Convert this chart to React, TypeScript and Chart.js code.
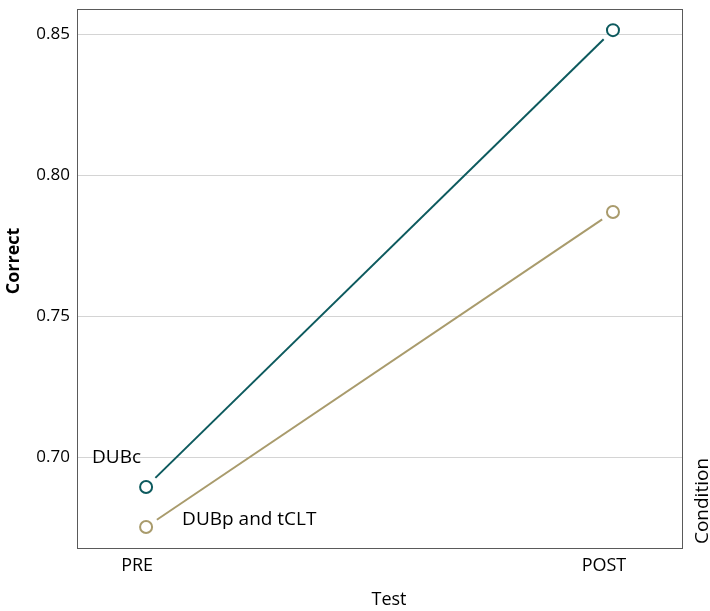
import React, { useEffect, useRef } from "react";
import { Chart, registerables } from "chart.js";

Chart.register(...registerables);

const categories = ["PRE", "POST"];
const seriesNames = ["DUBc", "DUBp and tCLT"];
const dubcValues = [0.6894, 0.8514];
const dubpValues = [0.6752, 0.7869];
const yTickValues = [0.7, 0.75, 0.8, 0.85];
const seriesColors = ["#0d5a5e", "#a99b6c"];

const FONT = "'Open Sans', sans-serif";

const gapLinesPlugin = {
  id: "gapLines",
  beforeDatasetsDraw(chart: any) {
    const ctx = chart.ctx;
    const gap = 13;
    chart.data.datasets.forEach((ds: any, i: number) => {
      const meta = chart.getDatasetMeta(i);
      const pts = meta.data;
      ctx.save();
      ctx.strokeStyle = ds.borderColor;
      ctx.lineWidth = 2;
      for (let k = 0; k < pts.length - 1; k++) {
        const a = pts[k];
        const b = pts[k + 1];
        const dx = b.x - a.x;
        const dy = b.y - a.y;
        const len = Math.sqrt(dx * dx + dy * dy);
        const ux = dx / len;
        const uy = dy / len;
        ctx.beginPath();
        ctx.moveTo(a.x + ux * gap, a.y + uy * gap);
        ctx.lineTo(b.x - ux * gap, b.y - uy * gap);
        ctx.stroke();
      }
      ctx.restore();
    });
  },
  afterDatasetsDraw(chart: any) {
    const ctx = chart.ctx;
    const ca = chart.chartArea;
    ctx.save();
    ctx.strokeStyle = "#5a5a5a";
    ctx.lineWidth = 1;
    ctx.strokeRect(ca.left + 0.5, ca.top + 0.5, ca.right - ca.left - 1, ca.bottom - ca.top - 1);

    ctx.fillStyle = "#000";
    ctx.font = `19px ${FONT}`;
    ctx.textBaseline = "middle";
    const p0 = chart.getDatasetMeta(0).data[0];
    const p1 = chart.getDatasetMeta(1).data[0];
    ctx.textAlign = "right";
    ctx.fillText(seriesNames[0], p0.x - 5, p0.y - 29);
    ctx.textAlign = "left";
    ctx.fillText(seriesNames[1], p1.x + 36, p1.y - 7);

    // axis titles
    ctx.textAlign = "center";
    ctx.font = `18px ${FONT}`;
    ctx.fillText("Test", 389, 600);
    ctx.save();
    ctx.translate(14, 261);
    ctx.rotate(-Math.PI / 2);
    ctx.font = `bold 18px ${FONT}`;
    ctx.fillText("Correct", 0, 0);
    ctx.restore();
    ctx.save();
    ctx.translate(703, 501);
    ctx.rotate(-Math.PI / 2);
    ctx.font = `19px ${FONT}`;
    ctx.fillText("Condition", 0, 0);
    ctx.restore();
    ctx.restore();
  },
};

export default function App() {
  const ref = useRef<HTMLCanvasElement>(null);
  useEffect(() => {
    document.body.style.margin = "0";
    const makeData = (vals: number[]) => vals.map((v, i) => ({ x: i, y: v }));
    const chart = new Chart(ref.current!, {
      type: "scatter",
      data: {
        datasets: [dubcValues, dubpValues].map((vals, i) => ({
          label: seriesNames[i],
          data: makeData(vals),
          borderColor: seriesColors[i],
          backgroundColor: "#ffffff",
          pointRadius: 6,
          pointBorderWidth: 2,
          pointHoverRadius: 6,
          showLine: false,
        })),
      },
      options: {
        animation: false,
        responsive: false,
        devicePixelRatio: 1,
        layout: { padding: { top: 9, right: 27, left: 0, bottom: 0 } },
        plugins: { legend: { display: false }, tooltip: { enabled: false } },
        scales: {
          x: {
            type: "linear",
            min: -0.148,
            max: 1.15,
            afterBuildTicks: (s: any) => {
              s.ticks = categories.map((_, i) => ({ value: i }));
            },
            afterFit: (s: any) => {
              s.height = 62;
              s.paddingLeft = 0;
              s.paddingRight = 0;
            },
            ticks: {
              callback: (v: any) => categories[v as number] ?? "",
              color: "#000",
              font: { family: FONT, size: 18 },
              padding: 6,
              labelOffset: -9,
              maxRotation: 0,
            },
            grid: { display: false, drawTicks: false },
            border: { display: false },
          },
          y: {
            min: 0.6674,
            max: 0.8589,
            afterBuildTicks: (s: any) => {
              s.ticks = yTickValues.map((v) => ({ value: v }));
            },
            afterFit: (s: any) => {
              s.width = 77;
              s.paddingTop = 0;
              s.paddingBottom = 0;
            },
            ticks: {
              callback: (v: any) => Number(v).toFixed(2),
              color: "#000",
              font: { family: FONT, size: 17 },
              padding: 7,
            },
            grid: { color: "#d4d4d4", lineWidth: 1, drawTicks: false },
            border: { display: false },
          },
        },
      },
      plugins: [gapLinesPlugin],
    });
    return () => chart.destroy();
  }, []);
  return <canvas ref={ref} width={710} height={611} style={{ display: "block" }} />;
}
